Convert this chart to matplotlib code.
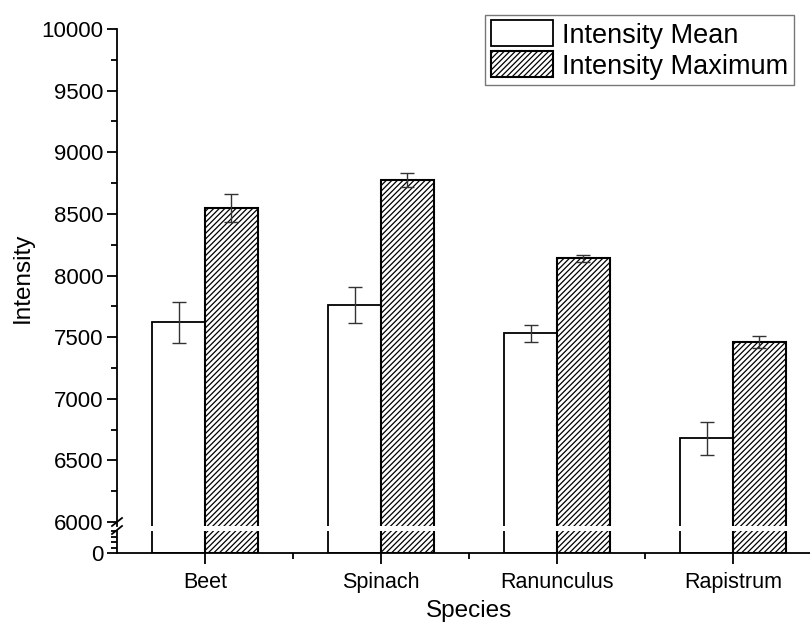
import numpy as np
import matplotlib
matplotlib.use('Agg')
import matplotlib.pyplot as plt
from matplotlib.ticker import MultipleLocator, FixedLocator, NullFormatter

plt.rcParams['font.family'] = ['Liberation Sans', 'DejaVu Sans']
plt.rcParams['hatch.linewidth'] = 0.9

# ---------------------------------------------------------------------------
# Data
# ---------------------------------------------------------------------------
species = ['Beet', 'Spinach', 'Ranunculus', 'Rapistrum']
mean_vals = [7620, 7758, 7531, 6679]
mean_err = [165, 146, 68, 133]
max_vals = [8548, 8775, 8139, 7458]
max_err = [115, 55, 29, 49]

W, H = 810, 623
fig = plt.figure(figsize=(W / 100, H / 100), dpi=100)
fig.patch.set_facecolor('white')


def fpos(x0, y0, x1, y1):
    """pixel box (top-left origin) -> figure axes rect"""
    return [x0 / W, 1 - y1 / H, (x1 - x0) / W, (y1 - y0) / H]


# upper panel (6000-10000) and lower stub (0-...) with a broken axis
ax_top = fig.add_axes(fpos(117, 29, 821, 526))
ax_bot = fig.add_axes(fpos(117, 531, 821, 553))

x = np.arange(len(species))
bw = 0.30
px_per_unit = (522 - 29) / 4000.0
ylo_top = 6000 - (526 - 522) / px_per_unit

for ax in (ax_top, ax_bot):
    ax.bar(x - bw / 2, mean_vals, bw, color='white', edgecolor='black',
           linewidth=1.3, label='Intensity Mean', zorder=2)
    ax.bar(x + bw / 2, max_vals, bw, color='white', edgecolor='black',
           hatch='//////', linewidth=1.5, label='Intensity Maximum', zorder=2)
    ax.set_xlim(-0.5, len(species) - 0.5)
    ax.spines['top'].set_visible(False)
    ax.spines['right'].set_visible(False)
    ax.spines['left'].set_linewidth(1.3)
    ax.spines['bottom'].set_linewidth(1.3)
    ax.set_facecolor('none')

ax_top.errorbar(x - bw / 2, mean_vals, yerr=mean_err, fmt='none',
                ecolor='#333333', elinewidth=1.0, capsize=5, capthick=1.0, zorder=3)
ax_top.errorbar(x + bw / 2, max_vals, yerr=max_err, fmt='none',
                ecolor='#333333', elinewidth=1.0, capsize=5, capthick=1.0, zorder=3)

# upper panel axis
ax_top.set_ylim(ylo_top, 10000)
ax_top.spines['bottom'].set_visible(False)
ax_top.yaxis.set_major_locator(FixedLocator(np.arange(6000, 10001, 500)))
ax_top.yaxis.set_minor_locator(MultipleLocator(250))
ax_top.tick_params(axis='y', which='major', direction='out', length=7,
                   width=1.3, labelsize=16, pad=3)
ax_top.tick_params(axis='y', which='minor', direction='out', length=4, width=1.3)
ax_top.tick_params(axis='x', which='both', bottom=False, labelbottom=False)
ax_top.set_ylabel('Intensity', fontsize=17.5)
ax_top.yaxis.set_label_coords(-0.118, 0.5)

# lower stub axis
ax_bot.set_ylim(0, 1000)
ax_bot.yaxis.set_major_locator(FixedLocator([0]))
ax_bot.yaxis.set_minor_locator(MultipleLocator(250))
ax_bot.yaxis.set_minor_formatter(NullFormatter())
ax_bot.tick_params(axis='y', which='major', direction='out', length=7,
                   width=1.3, labelsize=16, pad=3)
ax_bot.tick_params(axis='y', which='minor', direction='out', length=4, width=1.3)
ax_bot.set_xticks(x)
ax_bot.set_xticklabels(species)
ax_bot.xaxis.set_minor_locator(FixedLocator(x[:-1] + 0.5))
ax_bot.tick_params(axis='x', which='major', direction='out', length=8,
                   width=1.3, labelsize=15.5, pad=6)
ax_bot.tick_params(axis='x', which='minor', direction='out', length=4, width=1.3)
ax_bot.set_xlabel('Species', fontsize=17.5, labelpad=5)

# break marks on the y axis
for yb in (522, 530):
    fig.add_artist(plt.Line2D([112 / W, 122 / W], [1 - (yb + 4) / H, 1 - (yb - 4) / H],
                              color='black', lw=1.3, transform=fig.transFigure))

leg = ax_top.legend(loc='upper right', bbox_to_anchor=(794 / W, 1 - 15 / H),
                    bbox_transform=fig.transFigure, fontsize=19.5,
                    frameon=True, fancybox=False, edgecolor='#555555',
                    handlelength=2.3, handleheight=1.1, handletextpad=0.35,
                    labelspacing=0.1, borderpad=0.2, borderaxespad=0)
leg.get_frame().set_linewidth(1.0)

fig.savefig('out.png', dpi=100)
